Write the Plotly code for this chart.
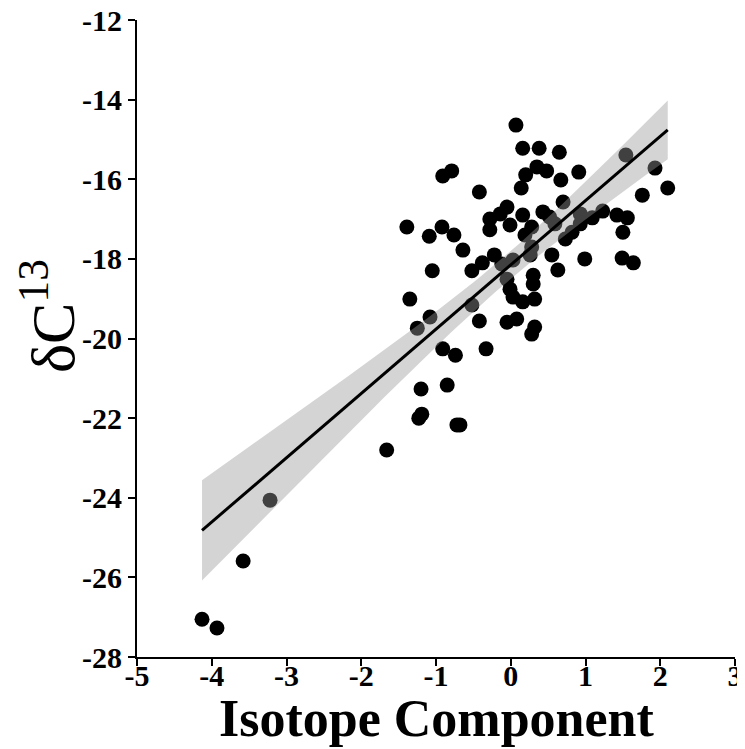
import numpy as np
import plotly.graph_objects as go

isotope_component = [
    -4.13, -3.93, -3.58, -3.22, -1.66,
    -1.20, -0.85, -1.19, -1.23, -0.72, -0.68, -0.91, -0.74, -0.33,
    -1.39, -1.09, -0.92, -0.76, -0.64, -1.05, -1.35, -1.08, -1.25, -0.52,
    -0.38, -0.22, -0.52, -0.42, -0.91, -0.79, -0.42,
    0.07, 0.16, 0.38, 0.65, 0.35, 0.48, 0.20, 0.14, 0.67, 0.91, 0.70,
    -0.05, -0.14, -0.28, -0.28, -0.01, 0.16, 0.43, 0.52, 0.59, 0.28,
    0.19, 0.82, 0.73, 0.93, 0.28, 0.26, 0.55, 0.63, 0.03, -0.12, 0.30,
    0.30, -0.05, -0.01, 0.03, 0.16, 0.32, -0.05, 0.08, 0.32, 0.28,
    0.99, 1.49, 1.64, 1.50, 1.23, 1.42, 1.56, 1.09, 0.93, 1.54, 1.93,
    2.10, 1.76,
]
delta_c13 = [
    -27.05, -27.27, -25.59, -24.06, -22.80,
    -21.27, -21.17, -21.90, -22.00, -22.17, -22.17, -20.26, -20.42, -20.26,
    -17.20, -17.43, -17.20, -17.40, -17.78, -18.30, -19.01, -19.46, -19.74, -18.30,
    -18.10, -17.90, -19.16, -19.56, -15.92, -15.79, -16.32,
    -14.64, -15.22, -15.22, -15.32, -15.69, -15.79, -15.89, -16.22, -16.02, -15.82, -16.57,
    -16.70, -16.87, -17.00, -17.27, -17.15, -16.90, -16.82, -16.95, -17.12, -17.20,
    -17.40, -17.33, -17.50, -16.87, -17.70, -17.90, -17.90, -18.28, -18.03, -18.13, -18.41,
    -18.63, -18.51, -18.76, -18.96, -19.08, -19.01, -19.59, -19.51, -19.71, -19.89,
    -18.00, -17.98, -18.10, -17.33, -16.80, -16.90, -16.97, -16.97, -17.12, -15.39, -15.72,
    -16.22, -16.40,
]

x_tick_values = [-5, -4, -3, -2, -1, 0, 1, 2, 3]
x_tick_labels = ["-5", "-4", "-3", "-2", "-1", "0", "1", "2", "3"]
y_tick_values = [-28, -26, -24, -22, -20, -18, -16, -14, -12]
y_tick_labels = ["-28", "-26", "-24", "-22", "-20", "-18", "-16", "-14", "-12"]
x_title = "Isotope Component"
y_title = "δC<sup>13</sup>"

x = np.array(isotope_component)
y = np.array(delta_c13)
n = len(x)
slope, intercept = np.polyfit(x, y, 1)
xs = np.linspace(x.min(), x.max(), 80)
yhat = intercept + slope * xs
resid = y - (intercept + slope * x)
s = np.sqrt(np.sum(resid ** 2) / (n - 2))
xm = x.mean()
se = s * np.sqrt(1.0 / n + (xs - xm) ** 2 / np.sum((x - xm) ** 2))
tval = 1.99
upper = yhat + tval * se
lower = yhat - tval * se

fig = go.Figure()
fig.add_trace(go.Scatter(
    x=x, y=y, mode="markers",
    marker=dict(color="black", size=15, line=dict(width=0)),
    showlegend=False, hoverinfo="skip"))
fig.add_trace(go.Scatter(
    x=xs, y=upper, mode="lines", line=dict(width=0, color="rgba(0,0,0,0)"),
    showlegend=False, hoverinfo="skip"))
fig.add_trace(go.Scatter(
    x=xs, y=lower, mode="lines", line=dict(width=0, color="rgba(0,0,0,0)"),
    fill="tonexty", fillcolor="rgba(153,153,153,0.42)",
    showlegend=False, hoverinfo="skip"))
fig.add_trace(go.Scatter(
    x=xs, y=yhat, mode="lines", line=dict(color="black", width=3),
    showlegend=False, hoverinfo="skip"))

axis_font = dict(family="Liberation Serif", size=30, color="black", weight="bold")
fig.update_layout(
    width=737, height=741,
    margin=dict(l=129, r=10, t=12, b=92),
    paper_bgcolor="white", plot_bgcolor="white",
    xaxis=dict(
        range=[-5, 3], tickvals=x_tick_values, ticktext=x_tick_labels,
        automargin=False, ticklabeloverflow="allow",
        showgrid=False, zeroline=False, showline=True, linecolor="black", linewidth=2,
        ticks="outside", ticklen=7, tickwidth=2, tickcolor="black",
        ticklabelstandoff=-16,
        tickfont=axis_font,
    ),
    yaxis=dict(
        range=[-28, -12], tickvals=y_tick_values, ticktext=y_tick_labels,
        automargin=False, ticklabeloverflow="allow",
        showgrid=False, zeroline=False, showline=True, linecolor="black", linewidth=2,
        ticks="outside", ticklen=7, tickwidth=2, tickcolor="black",
        tickfont=axis_font,
    ),
    annotations=[
        dict(text=x_title, xref="paper", yref="paper", x=0.5, y=-0.0958,
             xanchor="center", yanchor="middle", showarrow=False,
             font=dict(family="Liberation Serif", size=52, color="black", weight="bold")),
        dict(text=y_title, xref="paper", yref="paper", x=-0.149, y=0.535,
             xanchor="center", yanchor="middle", showarrow=False, textangle=-90,
             font=dict(family="Liberation Serif", size=62, color="black")),
    ],
)
fig.write_html("out.html")
